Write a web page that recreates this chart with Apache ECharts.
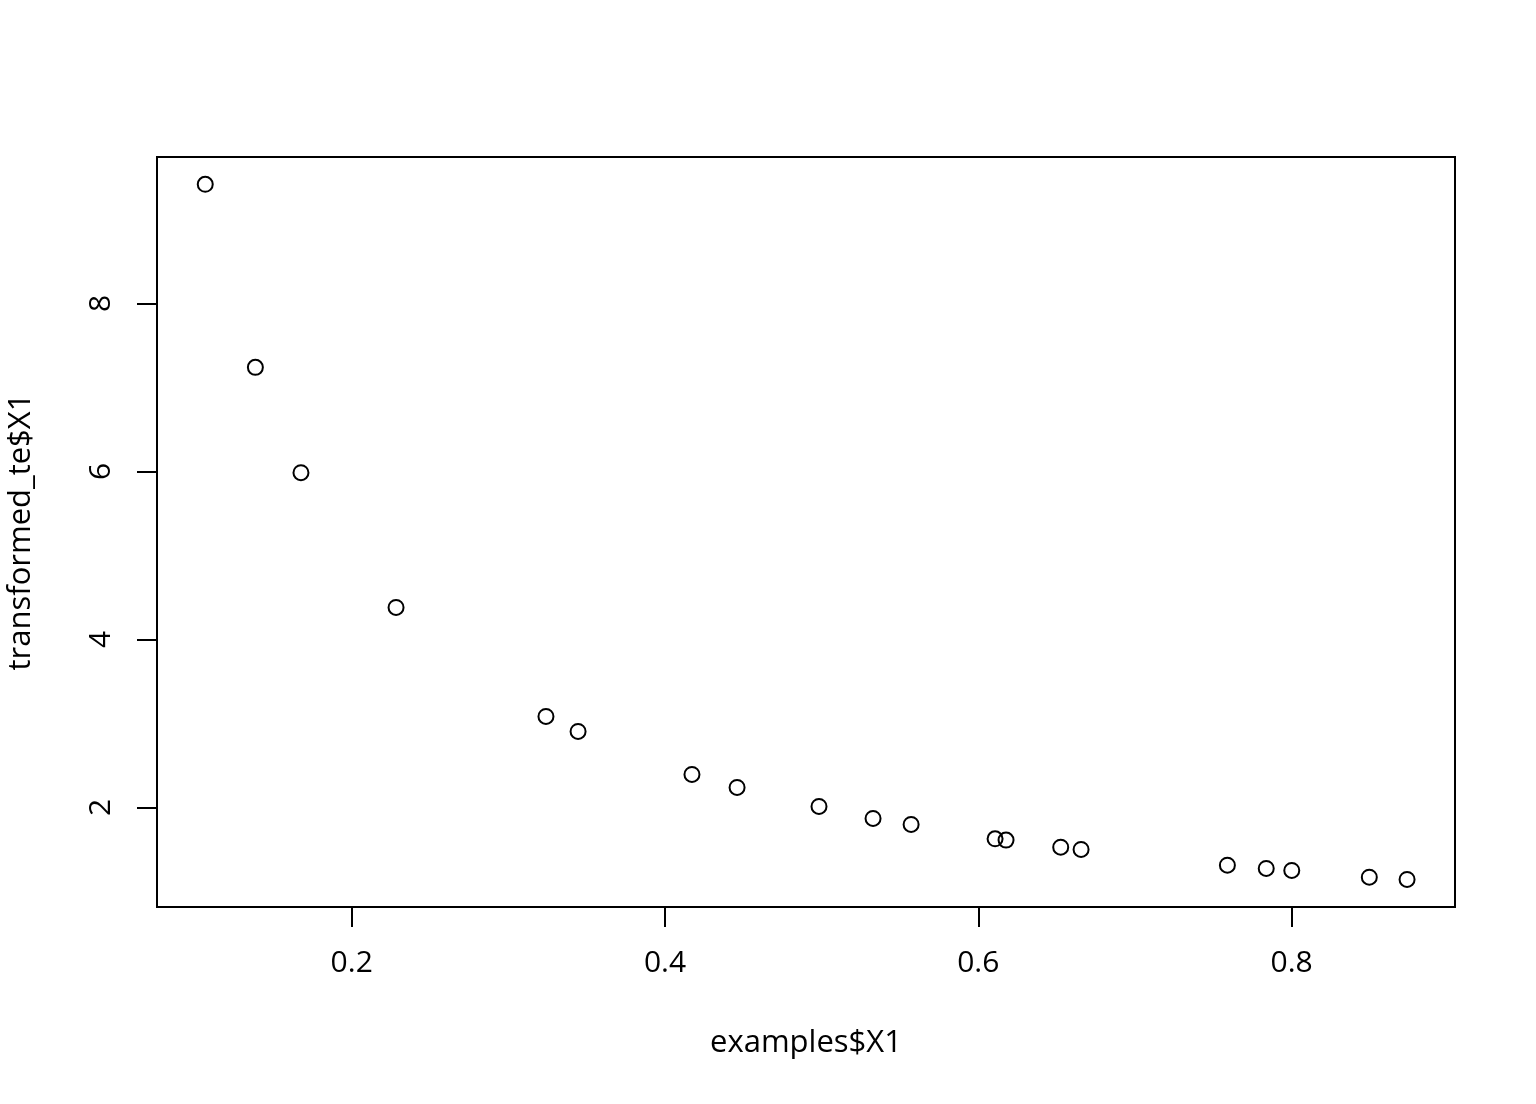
<!DOCTYPE html>
<html>
<head>
<meta charset="utf-8">
<script src="https://cdn.jsdelivr.net/npm/echarts@6/dist/echarts.min.js"></script>
<style>
html,body{margin:0;padding:0;background:#fff;}
#chart{width:1536px;height:1104px;}
</style>
</head>
<body>
<div id="chart"></div>
<script>
const xValues = [0.1065,0.1385,0.1676,0.2283,0.3240,0.3445,0.4172,0.4460,0.4983,0.5328,0.5571,0.6107,0.6177,0.6526,0.6656,0.7590,0.7838,0.8001,0.8496,0.8737];
const yValues = [9.417,7.238,5.985,4.381,3.083,2.905,2.393,2.238,2.012,1.869,1.798,1.627,1.611,1.527,1.500,1.313,1.274,1.250,1.170,1.143];
const xTicks = [0.2,0.4,0.6,0.8];
const yTicks = [2,4,6,8];
const xTitle = 'examples$X1';
const yTitle = 'transformed_te$X1';

const points = xValues.map((x,i)=>[x,yValues[i]]);
const font = '"Open Sans", "Noto Sans", sans-serif';

const chart = echarts.init(document.getElementById('chart'));
chart.setOption({
  animation:false,
  backgroundColor:'#fff',
  grid:{left:157,right:81,top:157,bottom:197,containLabel:false,outerBoundsMode:'none',show:true,borderColor:'#000',borderWidth:2,backgroundColor:'transparent'},
  xAxis:{
    type:'value',min:0.0757,max:0.9043,
    name:xTitle,nameLocation:'middle',nameGap:121,
    nameTextStyle:{fontFamily:font,fontSize:31,color:'#000'},
    axisLine:{show:false},
    splitLine:{show:false},
    axisTick:{show:true,customValues:xTicks,length:20,inside:false,lineStyle:{color:'#000',width:2}},
    axisLabel:{customValues:xTicks,formatter:v=>v.toFixed(1),fontFamily:font,fontSize:30,color:'#000',margin:41}
  },
  yAxis:{
    type:'value',min:0.815,max:9.742,
    name:yTitle,nameLocation:'middle',nameGap:120,
    nameTextStyle:{fontFamily:font,fontSize:31,color:'#000'},
    axisLine:{show:false},
    splitLine:{show:false},
    axisTick:{show:true,customValues:yTicks,length:20,inside:false,lineStyle:{color:'#000',width:2}},
    axisLabel:{customValues:yTicks,formatter:v=>String(v),rotate:90,fontFamily:font,fontSize:30,color:'#000',margin:41}
  },
  series:[{
    type:'scatter',
    data:points,
    symbol:'circle',
    symbolSize:15,
    itemStyle:{color:'transparent',borderColor:'#000',borderWidth:2,opacity:1}
  }]
});
</script>
</body>
</html>
